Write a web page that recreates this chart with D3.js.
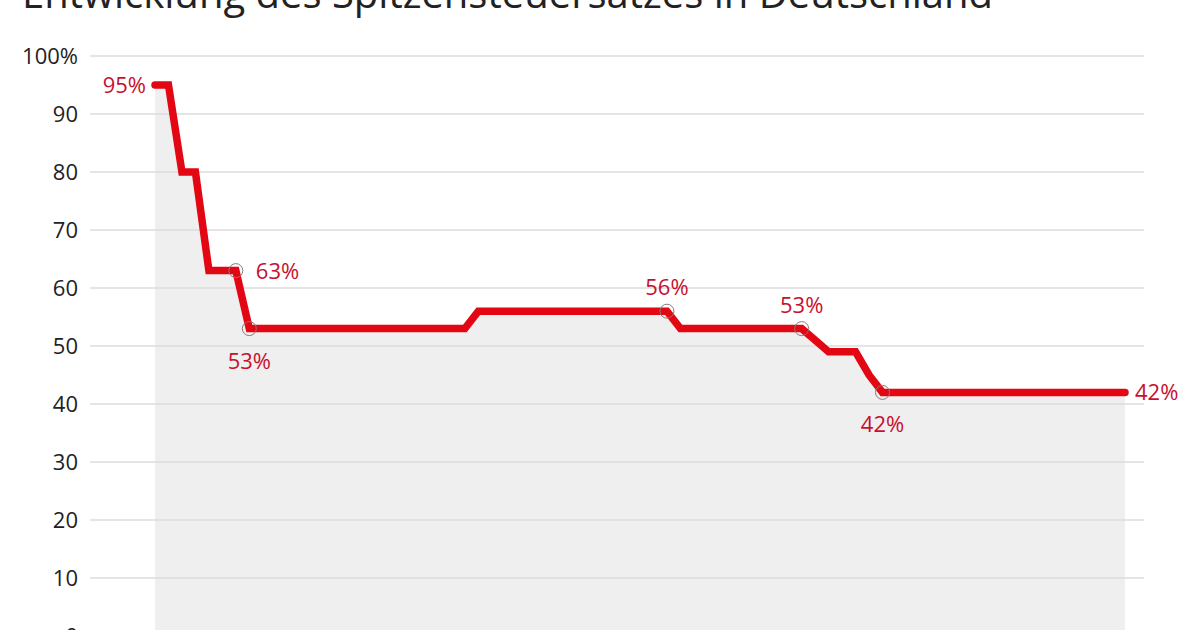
<!DOCTYPE html>
<html><head><meta charset="utf-8">
<script src="https://cdn.jsdelivr.net/npm/d3@7"></script>
<style>
html,body{margin:0;padding:0;background:#fff;}
svg{display:block;font-family:"Open Sans",sans-serif;}
</style></head>
<body><svg id="c" width="1200" height="630"></svg>
<script>
const years = d3.range(1951, 2024);
const rates = [95,95,80,80,63,63,63,
  53,53,53,53,53,53,53,53,53,53,53,53,53,53,53,53,53,
  56,56,56,56,56,56,56,56,56,56,56,56,56,56,56,
  53,53,53,53,53,53,53,53,53,53,
  51,49,49,49,45,
  42,42,42,42,42,42,42,42,42,42,42,42,42,42,42,42,42,42,42];
const yTicks = [0,10,20,30,40,50,60,70,80,90,100];
const annotations = [
  {year:1951, text:"95%", pos:"left", circle:false},
  {year:1957, text:"63%", pos:"right", circle:true},
  {year:1958, text:"53%", pos:"below", circle:true},
  {year:1989, text:"56%", pos:"above", circle:true},
  {year:1999, text:"53%", pos:"above", circle:true},
  {year:2005, text:"42%", pos:"below", circle:true},
  {year:2023, text:"42%", pos:"right", circle:false}
];
const title = "Entwicklung des Spitzensteuersatzes in Deutschland";

const data = years.map((y,i)=>({year:y, v:rates[i]}));
const svg = d3.select("#c");
const x = d3.scaleLinear().domain([1951,2023]).range([155,1125]);
const y = d3.scaleLinear().domain([0,100]).range([636,56]);

svg.append("text").attr("x",22).attr("y",8).attr("font-size",40)
  .attr("fill","#222").attr("textLength",971).attr("lengthAdjust","spacingAndGlyphs")
  .text(title);

svg.append("path").datum(data)
  .attr("d", d3.area().x(d=>x(d.year)).y0(y(0)).y1(d=>y(d.v)))
  .attr("fill","#efefef");

svg.append("g").selectAll("line").data(yTicks).join("line")
  .attr("x1",90).attr("x2",1144).attr("y1",d=>y(d)).attr("y2",d=>y(d))
  .attr("stroke","#dcdcdc").attr("stroke-width",1.5);

svg.append("g").selectAll("text").data(yTicks).join("text")
  .attr("x",78).attr("y",d=>y(d)).attr("dy","0.36em").attr("text-anchor","end")
  .attr("font-size",22).attr("fill","#222")
  .text(d=> d===100 ? "100%" : d);

svg.append("path").datum(data)
  .attr("d", d3.line().x(d=>x(d.year)).y(d=>y(d.v)))
  .attr("fill","none").attr("stroke","#e30613").attr("stroke-width",7.5)
  .attr("stroke-linejoin","miter").attr("stroke-linecap","round");

const g = svg.append("g");
annotations.forEach(a=>{
  const d = data.find(p=>p.year===a.year);
  const cx = x(d.year), cy = y(d.v);
  if(a.circle){
    g.append("circle").attr("cx",cx).attr("cy",cy).attr("r",7)
      .attr("fill","none").attr("stroke","#8a7a7a").attr("stroke-width",1);
  }
  const t = g.append("text").attr("font-size",22).attr("fill","#c8102e").text(a.text);
  if(a.pos==="left") t.attr("x",cx-9).attr("y",cy).attr("dy","0.36em").attr("text-anchor","end");
  if(a.pos==="right") t.attr("x",cx+(a.circle?20:10)).attr("y",cy).attr("dy","0.36em").attr("text-anchor","start");
  if(a.pos==="above") t.attr("x",cx).attr("y",cy-24).attr("dy","0.36em").attr("text-anchor","middle");
  if(a.pos==="below") t.attr("x",cx).attr("y",cy+32).attr("dy","0.36em").attr("text-anchor","middle");
});
</script></body></html>
